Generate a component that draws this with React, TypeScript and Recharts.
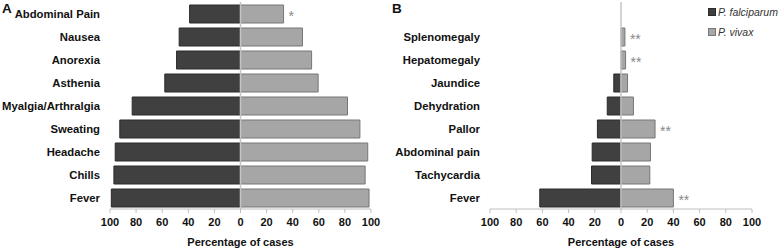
import React from 'react';
import {
  BarChart,
  Bar,
  XAxis,
  YAxis,
  ReferenceLine,
  LabelList,
  Legend,
} from 'recharts';

const categoriesA = [
  'Abdominal Pain',
  'Nausea',
  'Anorexia',
  'Asthenia',
  'Myalgia/Arthralgia',
  'Sweating',
  'Headache',
  'Chills',
  'Fever',
];
const falciparumA = [39, 47, 49, 58, 83, 92.5, 96, 97, 99];
const vivaxA = [33, 47.5, 54.5, 59.5, 82, 91.5, 97.5, 95.5, 98.5];
const sigA = ['*', '', '', '', '', '', '', '', ''];

const categoriesB = [
  '',
  'Splenomegaly',
  'Hepatomegaly',
  'Jaundice',
  'Dehydration',
  'Pallor',
  'Abdominal pain',
  'Tachycardia',
  'Fever',
];
const falciparumB = [0, 0, 0, 5.5, 10.5, 18, 22, 22.5, 62];
const vivaxB = [0, 3, 3.5, 5, 9.5, 26, 22.5, 22, 40];
const sigB = ['', '**', '**', '', '', '**', '', '', '**'];

const xTicks = [-100, -80, -60, -40, -20, 0, 20, 40, 60, 80, 100];

const FONT = '"Liberation Sans", Arial, sans-serif';
const DARK = '#404040';
const DARK_EDGE = '#2a2a2a';
const LIGHT = '#a6a6a6';
const LIGHT_EDGE = '#777777';

type Row = { name: string; falciparum: number; vivax: number; sig: string };

function buildRows(cats: string[], fal: number[], viv: number[], sig: string[]): Row[] {
  return cats.map((name, i) => ({
    name,
    falciparum: -fal[i],
    vivax: viv[i],
    sig: sig[i],
  }));
}

const dataA = buildRows(categoriesA, falciparumA, vivaxA, sigA);
const dataB = buildRows(categoriesB, falciparumB, vivaxB, sigB);

// plain text tick so long names don't wrap
const CategoryTick = (props: any) => (
  <text
    x={props.x}
    y={props.y}
    dy="0.355em"
    textAnchor="end"
    fontSize={11.3}
    fontWeight="bold"
    fill="#111"
    fontFamily={FONT}
  >
    {props.payload.value}
  </text>
);

const renderLegend = () => (
  <div style={{ fontFamily: FONT, fontSize: 10.5, fontStyle: 'italic', color: '#333', whiteSpace: 'nowrap' }}>
    {[
      { name: 'P. falciparum', fill: DARK, stroke: DARK_EDGE },
      { name: 'P. vivax', fill: LIGHT, stroke: LIGHT_EDGE },
    ].map((s) => (
      <div key={s.name} style={{ display: 'flex', alignItems: 'center', height: 20 }}>
        <span
          style={{
            display: 'inline-block',
            width: 6,
            height: 6,
            background: s.fill,
            border: `1px solid ${s.stroke}`,
            marginRight: 2,
          }}
        />
        {s.name}
      </div>
    ))}
  </div>
);

const Pyramid = ({
  data,
  width,
  yWidth,
  right,
  legend,
}: {
  data: Row[];
  width: number;
  yWidth: number;
  right: number;
  legend?: boolean;
}) => (
  <BarChart
    width={width}
    height={250}
    data={data}
    layout="vertical"
    stackOffset="sign"
    barSize={18}
    margin={{ top: 2, right, bottom: 0, left: 0 }}
  >
    <XAxis
      type="number"
      domain={[-100, 100]}
      ticks={xTicks}
      tickFormatter={(v: number) => String(Math.abs(v))}
      height={41}
      axisLine={{ stroke: '#bfbfbf' }}
      tickLine={{ stroke: '#bfbfbf' }}
      tickSize={4}
      tickMargin={5.5}
      tick={{ fontSize: 11, fontWeight: 'bold', fill: '#111', fontFamily: FONT }}
      interval={0}
      label={{
        value: 'Percentage of cases',
        position: 'insideBottom',
        offset: 4,
        style: { fontSize: 11, fontWeight: 'bold', fill: '#111', fontFamily: FONT },
      }}
    />
    <YAxis
      type="category"
      dataKey="name"
      width={yWidth}
      axisLine={false}
      tickLine={false}
      tickMargin={4}
      interval={0}
      tick={CategoryTick}
    />
    <Bar
      dataKey="falciparum"
      name="P. falciparum"
      stackId="a"
      fill={DARK}
      stroke={DARK_EDGE}
      isAnimationActive={false}
    />
    <Bar
      dataKey="vivax"
      name="P. vivax"
      stackId="a"
      fill={LIGHT}
      stroke={LIGHT_EDGE}
      isAnimationActive={false}
    >
      <LabelList
        dataKey="sig"
        position="right"
        offset={5}
        fill="#888"
        fontSize={14}
        fontFamily={FONT}
        dy={2}
      />
    </Bar>
    <ReferenceLine x={0} stroke="#c4c4c4" strokeWidth={1.5} />
    {legend && (
      <Legend
        layout="vertical"
        align="center"
        verticalAlign="middle"
        content={renderLegend}
        wrapperStyle={{ position: 'absolute', left: 318, top: 2, width: 70, height: 40 }}
      />
    )}
  </BarChart>
);

const panelLabel: React.CSSProperties = {
  position: 'absolute',
  top: 1,
  fontFamily: FONT,
  fontWeight: 'bold',
  fontSize: 13.5,
  color: '#111',
  lineHeight: '16px',
};

export default function App() {
  return (
    <div style={{ position: 'absolute', left: 0, top: 0, width: 778, height: 250, background: '#fff' }}>
      <div style={{ position: 'absolute', left: 0, top: 0 }}>
        <Pyramid data={dataA} width={390} yWidth={110} right={19} />
      </div>
      <div style={{ position: 'absolute', left: 390, top: 0 }}>
        <Pyramid data={dataB} width={388} yWidth={100} right={26} legend />
      </div>
      <span style={{ ...panelLabel, left: 2 }}>A</span>
      <span style={{ ...panelLabel, left: 392 }}>B</span>
    </div>
  );
}
